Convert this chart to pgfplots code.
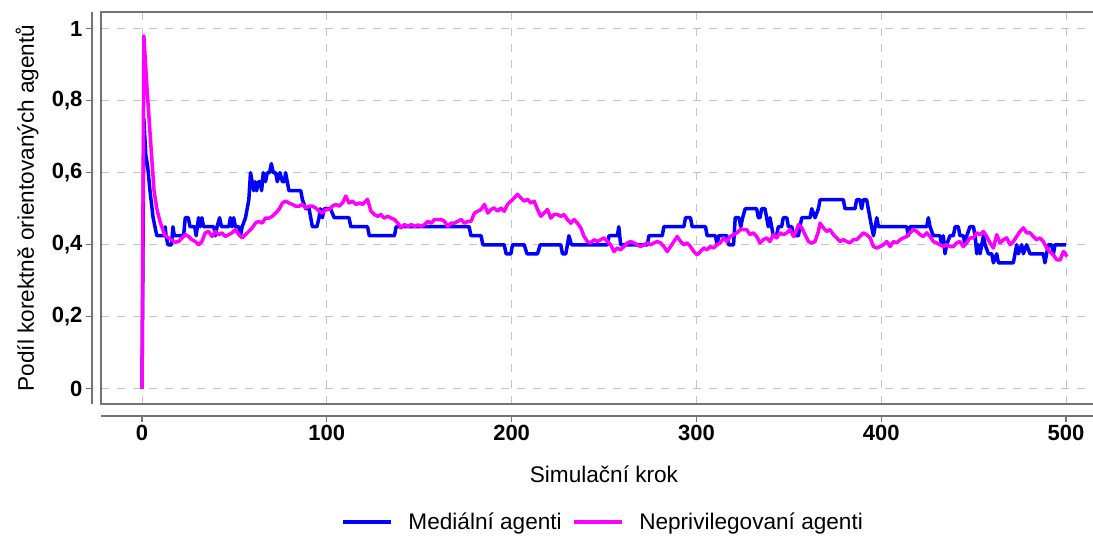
\documentclass[border=0pt]{standalone}
\usepackage{fontspec}
\setmainfont{Liberation Sans}
\usepackage{pgfplots}
\pgfplotsset{compat=1.18}
\definecolor{axgray}{RGB}{115,115,115}
\definecolor{gridgray}{RGB}{195,195,195}
\definecolor{serblue}{RGB}{0,0,255}
\definecolor{sermag}{RGB}{255,0,255}
\begin{document}
\begin{tikzpicture}
\path[use as bounding box] (-101pt,-132pt) rectangle (992pt,404pt);
\begin{axis}[
  at={(0pt,0pt)}, anchor=south west,
  scale only axis, width=992pt, height=392pt,
  xmin=-22.2, xmax=514.6, ymin=-0.042, ymax=1.046,
  axis lines*=left,
  axis x line shift=12pt, axis y line shift=9pt,
  axis line style={draw=axgray, line width=1.6pt},
  xtick={0,100,...,500}, ytick={0,0.2,0.4,0.6,0.8,1},
  tick align=outside, major tick length=6pt,
  tick style={draw=axgray, line width=1.2pt},
  grid=major, grid style={gridgray, line width=1pt, dash pattern=on 8pt off 8pt},
  /pgf/number format/assume math mode=true,
  /pgf/number format/use comma,
  yticklabel style={/pgf/number format/fixed, /pgf/number format/precision=1},
  ticklabel style={font=\bfseries\fontsize{22}{26}\selectfont},
  xlabel={Simulační krok},
  ylabel={Podíl korektně orientovaných agentů},
  label style={font=\fontsize{22.6}{27}\selectfont},
  xlabel style={at={(axis description cs:0.507,-0.1786)}, anchor=center},
  ylabel style={at={(axis description cs:-0.0746,0.5)}, anchor=center, rotate=0},
  legend columns=2,
  legend style={at={(axis description cs:0.506,-0.301)}, anchor=center, draw=none, fill=none,
    font=\fontsize{22.6}{27}\selectfont,
    /tikz/every odd column/.append style={column sep=14pt},
    /tikz/every even column/.append style={column sep=8pt}},
  legend image code/.code={\draw[#1, line width=3.5pt] (0pt,0pt) -- (48pt,0pt);},
  clip=false,
]
\addplot[serblue, line width=3.5pt, line join=round] coordinates {
(0,0) (1,0.75) (2,0.65) (3,0.62) (4.3,0.55) (6,0.475) (8,0.425) (12,0.425) (12.5,0.45) (13,0.425) (14,0.4) (16,0.4) (16.7,0.45) (17.5,0.425) (22.5,0.425) (23.4,0.475) (25,0.475) (26,0.45) (28.5,0.45) (29.3,0.425) (30.6,0.475) (31.5,0.45) (32.4,0.475) (33.3,0.45) (38.8,0.45) (39.7,0.425) (40.6,0.45) (42,0.475) (43,0.45) (47,0.45) (47.8,0.475) (48.7,0.45) (49.6,0.475) (50.5,0.45) (52.4,0.45) (53.3,0.425) (54.2,0.45) (56,0.475) (56.9,0.5) (57.8,0.525) (58.7,0.6) (59.6,0.575) (60.4,0.55) (61.2,0.575) (62,0.55) (63,0.575) (64,0.575) (64.7,0.55) (65.6,0.6) (66.8,0.575) (67.8,0.6) (69,0.6) (70,0.625) (71,0.6) (72.3,0.6) (73.2,0.575) (74.6,0.6) (76,0.575) (77,0.575) (77.7,0.6) (78.6,0.575) (79.5,0.55) (85.9,0.55) (86.8,0.525) (88.6,0.5) (90.4,0.5) (91.3,0.475) (92.2,0.45) (94.6,0.45) (95.8,0.475) (96.4,0.5) (97.6,0.475) (98.6,0.5) (102,0.5) (104,0.475) (112,0.475) (113,0.45) (122,0.45) (123,0.425) (136.6,0.425) (137.5,0.45) (177,0.45) (178,0.425) (183.5,0.425) (184.4,0.4) (196,0.4) (197,0.375) (199.6,0.375) (200.5,0.4) (206.8,0.4) (208.3,0.375) (214,0.375) (215.5,0.4) (226.6,0.4) (227.5,0.375) (229.3,0.375) (230.2,0.4) (231,0.425) (232.4,0.4) (251.8,0.4) (252.7,0.425) (257.2,0.425) (258,0.45) (259,0.4) (273.4,0.4) (274.3,0.425) (281.5,0.425) (282.4,0.45) (293.2,0.45) (294.1,0.475) (296.8,0.475) (297.7,0.45) (304.9,0.45) (305.8,0.425) (310.3,0.425) (311.2,0.4) (312,0.425) (316.5,0.425) (317.4,0.4) (320.1,0.4) (321,0.475) (323,0.475) (324,0.45) (325,0.475) (326.4,0.5) (332.6,0.5) (333.5,0.475) (334.4,0.475) (335.3,0.5) (337.1,0.5) (338,0.475) (338.9,0.45) (339.8,0.475) (340.7,0.45) (341.6,0.425) (343.4,0.425) (344.3,0.45) (346.1,0.45) (347,0.475) (348.9,0.475) (349.8,0.45) (351.6,0.45) (352.5,0.425) (355.2,0.425) (356,0.45) (357,0.475) (361.5,0.475) (362.4,0.5) (364.2,0.475) (366,0.5) (366.9,0.525) (379.5,0.525) (380.4,0.5) (385.8,0.5) (386.7,0.525) (388.5,0.525) (389.4,0.5) (390.3,0.525) (392.1,0.525) (393,0.5) (394.8,0.45) (395.8,0.425) (396.7,0.45) (397.6,0.475) (398.5,0.45) (413.8,0.45) (414.7,0.425) (415.6,0.45) (424.6,0.45) (425.5,0.475) (426.4,0.45) (428.2,0.425) (431.8,0.425) (432.7,0.4) (433.6,0.425) (434.5,0.375) (435.4,0.4) (437.2,0.425) (439,0.425) (440,0.45) (441.7,0.45) (442.6,0.425) (444.4,0.425) (445.4,0.4) (446.3,0.425) (448,0.45) (449.9,0.45) (450.8,0.425) (451.7,0.375) (452.6,0.4) (453.5,0.375) (454.4,0.4) (455.3,0.425) (456.2,0.4) (458,0.375) (459.8,0.375) (460.7,0.35) (462.5,0.375) (463.4,0.35) (471.5,0.35) (472.4,0.375) (473.3,0.4) (474.2,0.375) (476,0.4) (476.9,0.375) (478.7,0.4) (480.5,0.375) (487.7,0.375) (488.6,0.35) (489.5,0.375) (490.4,0.4) (492.2,0.4) (493.2,0.375) (494,0.4) (500,0.4)
};
\addlegendentry{Mediální agenti}
\addplot[sermag, line width=3.5pt, line join=round] coordinates {
(0,0) (1,0.98) (2.5,0.85) (5,0.66) (6.5,0.55) (8,0.5) (9.7,0.465) (11.4,0.44) (12.5,0.425) (14.3,0.419) (16,0.414) (18,0.407) (19.8,0.409) (21.6,0.419) (23.4,0.428) (25.2,0.423) (27,0.414) (28.8,0.409) (30.6,0.4) (32.4,0.409) (34.2,0.433) (36,0.437) (37.9,0.423) (39.7,0.437) (41.5,0.428) (43.3,0.433) (45,0.423) (46.9,0.428) (48.7,0.433) (50.5,0.442) (52.4,0.428) (54.2,0.419) (56,0.428) (57.8,0.437) (59.6,0.447) (61.4,0.46) (63.2,0.465) (65,0.46) (66.8,0.474) (68.7,0.474) (70.5,0.479) (72.3,0.488) (74.1,0.498) (76,0.516) (77.7,0.521) (79.5,0.516) (81.3,0.512) (83.2,0.507) (85,0.507) (86.8,0.512) (88.6,0.502) (90.4,0.507) (92.2,0.507) (94,0.502) (95.8,0.493) (97.6,0.488) (99.5,0.498) (101.3,0.498) (103,0.507) (105,0.512) (106.7,0.507) (108.5,0.516) (110.3,0.535) (112,0.516) (113.9,0.521) (115.8,0.512) (117.6,0.516) (119.4,0.512) (121,0.521) (122,0.526) (123.9,0.493) (125.7,0.484) (127.5,0.479) (129.3,0.484) (131,0.474) (132.9,0.479) (134.8,0.474) (136.6,0.47) (138.4,0.46) (140.2,0.447) (142,0.456) (143.9,0.451) (145.7,0.456) (147.5,0.451) (149.3,0.455) (151,0.451) (152.9,0.456) (154.7,0.465) (156.5,0.46) (158.3,0.47) (160.1,0.47) (161.9,0.47) (163.7,0.465) (165.4,0.451) (167.2,0.46) (169,0.46) (170.9,0.465) (172.7,0.47) (174.5,0.46) (176.3,0.465) (178,0.465) (179.9,0.488) (181.7,0.493) (183.5,0.498) (185.3,0.512) (187.1,0.488) (188.9,0.498) (190.6,0.502) (192.4,0.493) (194.2,0.502) (196,0.493) (197.8,0.512) (199.6,0.521) (201.4,0.53) (203.2,0.54) (205,0.53) (206.8,0.521) (208.6,0.526) (210.4,0.516) (212.2,0.521) (214,0.498) (215.8,0.479) (217.6,0.488) (219.4,0.498) (221.2,0.474) (223,0.484) (224.8,0.484) (226.6,0.479) (228.4,0.484) (230.2,0.47) (232,0.46) (233.8,0.47) (235.6,0.46) (237.4,0.447) (239.2,0.423) (241,0.409) (242.8,0.405) (244.6,0.414) (246.4,0.409) (248.2,0.414) (250,0.419) (251.8,0.409) (253.6,0.4) (255.4,0.381) (257.2,0.391) (259,0.386) (260.8,0.395) (262.6,0.405) (264.4,0.409) (266.2,0.405) (268,0.4) (269.8,0.395) (271.6,0.4) (273.4,0.405) (275.2,0.4) (277,0.405) (278.8,0.409) (280.6,0.405) (282.4,0.395) (284.2,0.381) (286,0.395) (287.8,0.409) (289.6,0.423) (291.4,0.409) (293.2,0.4) (295,0.405) (296.8,0.395) (298.6,0.381) (300.4,0.372) (302.2,0.381) (303.9,0.391) (305.7,0.386) (307.5,0.395) (309.3,0.391) (311.1,0.4) (312.9,0.405) (314.7,0.419) (316.5,0.409) (318.3,0.423) (320.1,0.428) (321.9,0.433) (323.7,0.442) (325.4,0.442) (327.2,0.442) (329,0.428) (330.8,0.433) (332.6,0.423) (334.4,0.405) (336.2,0.414) (338,0.419) (339.8,0.409) (341.6,0.428) (343.4,0.419) (345.2,0.433) (347,0.428) (348.9,0.433) (350.7,0.442) (352.5,0.423) (354.3,0.442) (355.2,0.456) (357,0.447) (358.8,0.428) (360.6,0.409) (362.4,0.405) (364.2,0.409) (366,0.437) (366.9,0.46) (368.7,0.447) (370.5,0.437) (372.3,0.442) (374.1,0.428) (375.9,0.419) (377.7,0.409) (379.5,0.414) (381.3,0.409) (383.1,0.405) (384.9,0.414) (386.7,0.414) (388.5,0.423) (390.3,0.433) (392.1,0.428) (394,0.419) (395.8,0.395) (397.6,0.391) (399.4,0.395) (401.2,0.4) (403,0.409) (404.8,0.395) (406.6,0.409) (408.4,0.405) (410.2,0.414) (412,0.419) (413.8,0.423) (415.6,0.433) (417.4,0.442) (419.2,0.437) (421,0.428) (422.8,0.423) (424.6,0.433) (426.4,0.423) (428.2,0.409) (430,0.405) (431.8,0.4) (433.6,0.395) (435.4,0.4) (437.2,0.395) (439,0.395) (440.8,0.405) (442.6,0.409) (444.4,0.395) (446.2,0.405) (448,0.419) (449.9,0.419) (451.7,0.433) (453.5,0.428) (455.3,0.437) (457.1,0.423) (458.9,0.405) (460.7,0.391) (462.5,0.428) (464.3,0.405) (466.1,0.414) (467.9,0.419) (469.7,0.4) (471.5,0.409) (473.3,0.423) (475.1,0.437) (476.9,0.447) (478.7,0.433) (480.5,0.433) (482.3,0.423) (484.1,0.414) (485.9,0.419) (487.7,0.409) (489.5,0.391) (491.3,0.381) (493.1,0.372) (495,0.358) (496.8,0.358) (498.6,0.381) (499.5,0.377) (500.4,0.367)
};
\addlegendentry{Neprivilegovaní agenti}
\draw[axgray, line width=1.6pt] (rel axis cs:1,0) -- (rel axis cs:0,0) -- (rel axis cs:0,1) -- (rel axis cs:1,1);
\end{axis}
\end{tikzpicture}
\end{document}
